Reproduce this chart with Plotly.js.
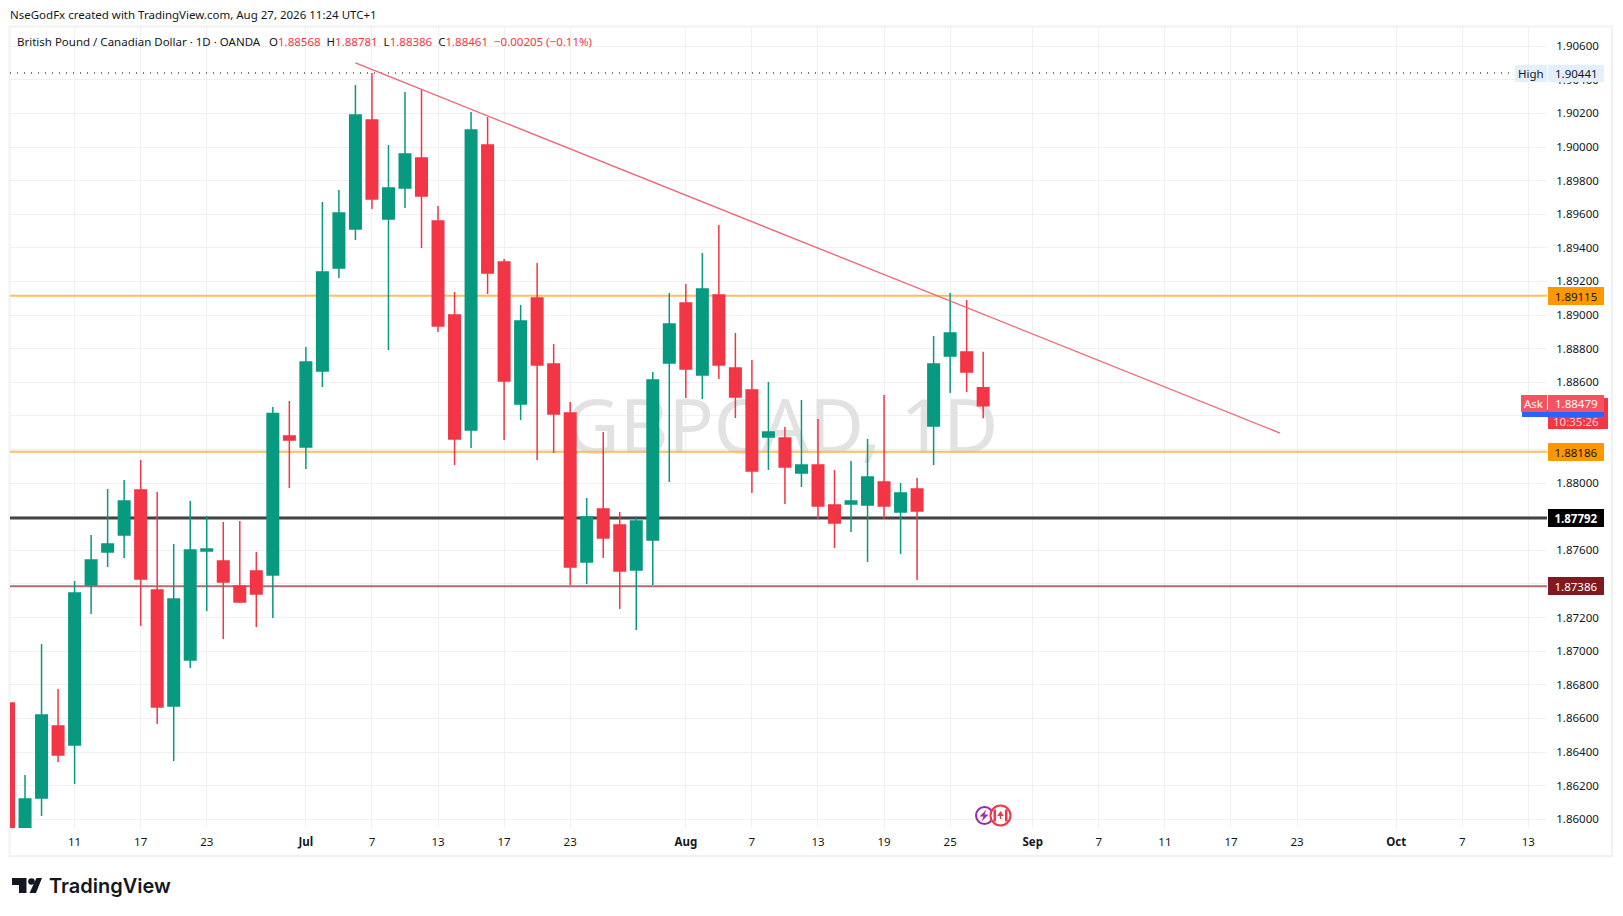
<!DOCTYPE html>
<html><head><meta charset="utf-8">
<script src="https://cdn.plot.ly/plotly-3.0.1.min.js"></script>
<style>html,body{margin:0;padding:0;background:#fff;overflow:hidden}#c{width:1623px;height:916px}</style>
</head><body><div id="c"></div>
<script>
const barIndex = Array.from({length:60},(_, i)=>i);
const open = [1.86692,1.85900,1.86127,1.86555,1.86442,1.87394,1.87590,1.87692,1.87959,1.87364,1.86674,1.86948,1.87596,1.87537,1.87388,1.87477,1.87454,1.88281,1.88215,1.88667,1.89280,1.89512,1.90161,1.89572,1.89756,1.89935,1.89560,1.89001,1.88316,1.90012,1.89316,1.88471,1.89102,1.88709,1.88417,1.87531,1.87846,1.87751,1.87483,1.87662,1.88715,1.89072,1.88644,1.89120,1.88685,1.88554,1.88275,1.88269,1.88060,1.88108,1.87870,1.87876,1.87870,1.88007,1.87828,1.87965,1.88340,1.88757,1.88780,1.88568];
const high = [1.86700,1.86264,1.87043,1.86775,1.87418,1.87692,1.87965,1.88019,1.88138,1.87947,1.87638,1.87894,1.87805,1.87769,1.87775,1.87590,1.88453,1.88489,1.88810,1.89673,1.89744,1.90369,1.90441,1.90012,1.90327,1.90345,1.89649,1.89137,1.90208,1.90179,1.89334,1.89060,1.89310,1.88828,1.88483,1.87912,1.88304,1.87828,1.87793,1.88661,1.89131,1.89185,1.89370,1.89536,1.88893,1.88733,1.88602,1.88334,1.88495,1.88382,1.88078,1.88132,1.88263,1.88525,1.88001,1.88031,1.88876,1.89131,1.89090,1.88781];
const low = [1.85750,1.85850,1.86020,1.86341,1.86210,1.87222,1.87501,1.87555,1.87150,1.86567,1.86347,1.86900,1.87239,1.87073,1.87287,1.87144,1.87198,1.87971,1.88084,1.88572,1.89221,1.89447,1.89631,1.88792,1.89637,1.89399,1.88899,1.88108,1.88209,1.89126,1.88257,1.88376,1.88138,1.88179,1.87394,1.87400,1.87555,1.87251,1.87126,1.87394,1.88007,1.88507,1.88501,1.88620,1.88388,1.87941,1.88078,1.87876,1.87977,1.87787,1.87614,1.87709,1.87531,1.87787,1.87579,1.87424,1.88108,1.88536,1.88542,1.88386];
const close = [1.85800,1.86121,1.86621,1.86383,1.87346,1.87543,1.87638,1.87894,1.87430,1.86668,1.87311,1.87602,1.87608,1.87412,1.87293,1.87341,1.88415,1.88257,1.88721,1.89256,1.89607,1.90191,1.89691,1.89756,1.89959,1.89709,1.88935,1.88263,1.90101,1.89250,1.88608,1.88965,1.88703,1.88412,1.87501,1.87799,1.87674,1.87477,1.87775,1.88614,1.88947,1.88679,1.89155,1.88703,1.88513,1.88072,1.88304,1.88096,1.88108,1.87864,1.87763,1.87894,1.88037,1.87864,1.87941,1.87834,1.88709,1.88893,1.88661,1.88461];

const tickIndex = [4,8,12,18,22,26,30,34,41,45,49,53,57,62,66,70,74,78,84,88,92];
const tickLabels = ['11','17','23','<b>Jul</b>','7','13','17','23','<b>Aug</b>','7','13','19','25','<b>Sep</b>','7','11','17','23','<b>Oct</b>','7','13'];
const priceTicks = [1.860,1.862,1.864,1.866,1.868,1.870,1.872,1.874,1.876,1.878,1.880,1.882,1.884,1.886,1.888,1.890,1.892,1.894,1.896,1.898,1.900,1.902,1.904,1.906];
const priceLabels = ['1.86000','1.86200','1.86400','1.86600','1.86800','1.87000','1.87200','','1.87600','','1.88000','','','1.88600','1.88800','1.89000','1.89200','1.89400','1.89600','1.89800','1.90000','1.90200','1.90400','1.90600'];
const priceRange = [1.85948,1.90714];
const indexRange = [0.09,93.13];

const levelOrangeHigh = 1.89115, levelOrangeLow = 1.88186, levelBlack = 1.87792, levelMaroon = 1.87386, highValue = 1.90441, askValue = 1.88479;
const trendX = [21.0,76.97];
const trendY = [1.90500,1.88298];
const highLineX = [0.09,91.3];
const watermark = 'GBPCAD, 1D';

const UP='#089981', DOWN='#f23645', INK='#131722';
const FONT='"Noto Sans", sans-serif';
const W=1537, H=801;
const px=x=>(x-10)/W, py=y=>1-(y-27)/H;
function rect(x0,y0,x1,y1,fill,extra){return Object.assign({type:'rect',xref:'paper',yref:'paper',x0:px(x0),x1:px(x1),y0:py(y0),y1:py(y1),fillcolor:fill,line:{width:0}},extra||{});}
function path(pts,fill){return {type:'path',xref:'paper',yref:'paper',path:'M'+pts.map(p=>px(p[0])+','+py(p[1])).join(' L')+' Z',fillcolor:fill,line:{width:0}};}
function circ(cx,cy,r,fill,stroke,w){return {type:'circle',xref:'paper',yref:'paper',x0:px(cx-r),x1:px(cx+r),y0:py(cy+r),y1:py(cy-r),fillcolor:fill,line:{color:stroke,width:w}};}
function lvl(v,color,width,dash,x,z){return {type:'scatter',mode:'lines',x:x||indexRange,y:[v,v],line:{color:color,width:width,dash:dash||'solid'},hoverinfo:'skip',zorder:z||1,showlegend:false};}

const traces=[
 {type:'scatter',mode:'text',x:[46.8],y:[1.88290],text:[watermark],textposition:'middle center',textfont:{family:'"Noto Sans", sans-serif',size:75,color:'#e2e2e2'},hoverinfo:'skip',zorder:0,showlegend:false},
 lvl(levelOrangeHigh,'#ffbd5f',2),
 lvl(levelOrangeLow,'#ffbd5f',2),
 lvl(levelBlack,'#434343',3),
 lvl(levelMaroon,'#b26d72',2),
 {type:'candlestick',x:barIndex,open:open,high:high,low:low,close:close,whiskerwidth:0,
  increasing:{line:{color:UP,width:1.5},fillcolor:UP},decreasing:{line:{color:DOWN,width:1.5},fillcolor:DOWN},hoverinfo:'skip',zorder:2,showlegend:false},
 lvl(highValue,'#787b86',2,'1px,6px',highLineX,3),
 {type:'scatter',mode:'lines',x:trendX,y:trendY,line:{color:'#f7606d',width:1.3},hoverinfo:'skip',zorder:3,showlegend:false}
];

function tag(v,text,bg,color){return {xref:'paper',yref:'y',x:px(1548),y:v,xanchor:'left',yanchor:'middle',text:text,showarrow:false,bgcolor:bg,width:56,height:18,borderpad:0,borderwidth:0,align:'center',valign:'middle',font:{family:FONT,size:11.5,color:color}};}
function txt(x,y,text,size,color,anchor,extra){return Object.assign({xref:'paper',yref:'paper',x:px(x),y:py(y),xanchor:anchor||'left',yanchor:'middle',text:text,showarrow:false,borderpad:0,font:{family:FONT,size:size,color:color}},extra||{});}
const R='#f23645';
const sp=s=>'<span style="color:'+R+'">'+s+'</span>';

const shapes=[
 {type:'rect',xref:'paper',yref:'paper',x0:px(9.5),x1:px(1612),y0:py(26.5),y1:py(856),line:{color:'#f1f1f1',width:2},fillcolor:'rgba(0,0,0,0)',layer:'below'},
 rect(1515,65,1547,82,'#e3effd'),
 rect(1548,65,1604,82,'#e3effd'),
 rect(1548,398,1608,429,'#f23645'),
 rect(1522,410,1604,417,'#2962ff'),
 rect(1521,395,1547,412,'#f7525f'),
 rect(1548,395,1604,412,'#f7525f'),
 circ(984.5,815.5,8.5,'#ffffff','#9c27b0',2),
 path([[986.5,809.5],[979.5,816.5],[983.5,816.5],[981.5,821.5],[988.5,814.5],[984.5,814.5]],'#9c27b0'),
 circ(1000.5,815.5,10,'#ffffff','#f23645',2),
 rect(993.5,809.5,996,821.5,'#f23645'),
 rect(1005,809.5,1007.5,821.5,'#f23645'),
 path([[1000.5,811],[1003.8,816],[1001.2,816],[1001.2,819],[999.8,819],[999.8,816],[997.2,816]],'#f23645'),
 path([[12,878],[26.5,878],[26.5,893],[19,893],[19,885],[12,885]],'#131722'),
 circ(31.5,881.5,3.3,'#131722','#131722',0),
 path([[36.5,878],[42,878],[36,893],[29.5,893]],'#131722')
];
const annotations=[
 tag(levelOrangeHigh,'1.89115','#ff9800',INK),
 tag(levelOrangeLow,'1.88186','#ff9800',INK),
 tag(levelBlack,'<b>1.87792</b>','#000000','#ffffff'),
 tag(levelMaroon,'1.87386','#801922','#ffffff'),
 txt(1531,73,'High',11.5,INK,'center'),
 txt(1576,73,'1.90441',11.5,INK,'center'),
 txt(1534,403.5,'Ask',11.5,'#ffffff','center'),
 txt(1576,403.5,'1.88479',11.5,'#ffffff','center'),
 txt(1576,421,'10:35:26',11.5,'#fcd5d8','center'),
 txt(9,14.5,'NseGodFx created with TradingView.com, Aug 27, 2026 11:24 UTC+1',11.5,INK),
 txt(16,41.5,'British Pound / Canadian Dollar · 1D · OANDA',11.5,INK),
 txt(268,41.5,'O'+sp('1.88568')+'  H'+sp('1.88781')+'  L'+sp('1.88386')+'  C'+sp('1.88461')+'  '+sp('−0.00205 (−0.11%)'),11.5,INK),
 txt(48,886,'TradingView',20,'#131722','left',{font:{family:'Inter, sans-serif',size:20,color:'#131722',weight:600}})
];

const layout={width:1623,height:916,paper_bgcolor:'#fff',plot_bgcolor:'#fff',showlegend:false,
 margin:{l:10,r:76,t:27,b:88,pad:0},boxgap:0.15,boxgroupgap:0.18,
 xaxis:{type:'linear',range:indexRange,rangeslider:{visible:false},tickmode:'array',tickvals:tickIndex,ticktext:tickLabels,
   showgrid:true,gridcolor:'#f0f0f0',gridwidth:1,zeroline:false,showline:false,ticks:'outside',ticklen:3,tickcolor:'rgba(0,0,0,0)',
   tickfont:{family:FONT,size:11.5,color:INK},tickangle:0},
 yaxis:{side:'right',range:priceRange,tickmode:'array',tickvals:priceTicks,ticktext:priceLabels,showgrid:true,gridcolor:'#f0f0f0',gridwidth:1,zeroline:false,showline:false,
   ticks:'outside',ticklen:6,tickcolor:'rgba(0,0,0,0)',tickfont:{family:FONT,size:11.5,color:INK}},
 shapes:shapes,annotations:annotations};
Plotly.newPlot('c',traces,layout,{displayModeBar:false,staticPlot:true,responsive:false});
</script></body></html>
